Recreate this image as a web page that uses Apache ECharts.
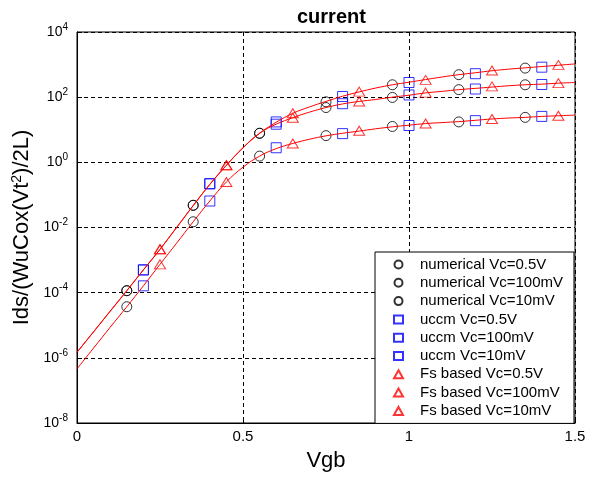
<!DOCTYPE html>
<html>
<head>
<meta charset="utf-8">
<script src="https://cdn.jsdelivr.net/npm/echarts@6/dist/echarts.min.js"></script>
<style>
html, body { margin: 0; padding: 0; background: #fff; }
#main { width: 600px; height: 477px; }
</style>
</head>
<body>
<div id="main"></div>
<script>
// Vgb grid of the continuous curves
var vgb = [0, 0.05, 0.1, 0.15, 0.2, 0.25, 0.3, 0.35, 0.4, 0.45, 0.5, 0.55, 0.6, 0.65, 0.7, 0.75,
    0.8, 0.85, 0.9, 0.95, 1.0, 1.05, 1.1, 1.15, 1.2, 1.25, 1.3, 1.35, 1.4, 1.45, 1.5];
var curve05 = [1.48e-6, 6.3e-6, 2.7e-5, 1.15e-4, 5.0e-4, 2.14e-3, 0.010, 0.047, 0.21, 0.81, 2.8, 7.8,
    17, 32, 50, 74, 107, 145, 191, 240, 288, 347, 417, 490, 562, 646, 724, 794, 871, 955, 1047];
var curve100 = [1.48e-6, 6.3e-6, 2.7e-5, 1.15e-4, 5.0e-4, 2.14e-3, 0.010, 0.047, 0.21, 0.81, 2.8, 7.8,
    14.8, 23.4, 34.7, 48, 62, 74, 85, 100, 115, 135, 151, 170, 186, 204, 224, 240, 251, 269, 282];
var curve10 = [4.6e-7, 2.0e-6, 8.7e-6, 3.7e-5, 1.62e-4, 7.4e-4, 3.3e-3, 0.015, 0.065, 0.25, 0.71, 1.55,
    2.63, 3.8, 5.1, 6.5, 7.8, 9.1, 10.7, 12.3, 13.8, 15.5, 16.6, 17.8, 19.5, 21.4, 22.9, 24, 25.7, 26.9, 28.2];

// marker positions
var vgbNum = [0.15, 0.35, 0.55, 0.75, 0.95, 1.15, 1.35];
var vgbUccm = [0.2, 0.4, 0.6, 0.8, 1.0, 1.2, 1.4];
var vgbFs = [0.25, 0.45, 0.65, 0.85, 1.05, 1.25, 1.45];

var num05 = [1.15e-4, 0.048, 7.8, 72, 240, 490, 780];
var num100 = [1.15e-4, 0.048, 7.8, 48, 98, 170, 240];
var num10 = [3.7e-5, 0.015, 1.55, 6.6, 12.6, 17.4, 24];
var uccm05 = [5.0e-4, 0.22, 17.4, 105, 282, 525, 832];
var uccm100 = [5.0e-4, 0.22, 14.8, 63, 117, 178, 245];
var uccm10 = [1.62e-4, 0.065, 2.8, 7.6, 13.5, 19, 25.7];
var fs05 = [2.14e-3, 0.81, 32, 148, 339, 660, 977];
var fs100 = [2.14e-3, 0.81, 23.4, 74, 138, 214, 269];
var fs10 = [7.4e-4, 0.25, 3.8, 9.3, 15.5, 21.4, 26.9];

var legendNames = [
    'numerical Vc=0.5V', 'numerical Vc=100mV', 'numerical Vc=10mV',
    'uccm Vc=0.5V', 'uccm Vc=100mV', 'uccm Vc=10mV',
    'Fs based Vc=0.5V', 'Fs based Vc=100mV', 'Fs based Vc=10mV'
];

var FONT = 'Liberation Sans, Arial, sans-serif';

function pairs (xs, ys) {
    return xs.map(function (x, i) { return [x, ys[i]]; });
}

function markers (name, xs, ys, symbol, size, color) {
    return {
        name: name,
        type: 'scatter',
        data: pairs(xs, ys),
        symbol: symbol,
        symbolSize: size,
        silent: true,
        itemStyle: { color: 'transparent', borderColor: color, borderWidth: 1 }
    };
}

function curve (xs, ys, color) {
    return {
        type: 'line',
        data: pairs(xs, ys),
        showSymbol: false,
        symbol: 'none',
        smooth: 0.4,
        silent: true,
        lineStyle: { color: color, width: 1 }
    };
}

var series = [
    markers(legendNames[0], vgbNum, num05, 'circle', 10, '#000'),
    markers(legendNames[1], vgbNum, num100, 'circle', 10, '#000'),
    markers(legendNames[2], vgbNum, num10, 'circle', 10, '#000'),
    markers(legendNames[3], vgbUccm, uccm05, 'rect', 10, '#0000ff'),
    markers(legendNames[4], vgbUccm, uccm100, 'rect', 10, '#0000ff'),
    markers(legendNames[5], vgbUccm, uccm10, 'rect', 10, '#0000ff'),
    markers(legendNames[6], vgbFs, fs05, 'triangle', [11, 9], '#ff0000'),
    markers(legendNames[7], vgbFs, fs100, 'triangle', [11, 9], '#ff0000'),
    markers(legendNames[8], vgbFs, fs10, 'triangle', [11, 9], '#ff0000'),
    // continuous Fs based curves on top of the markers
    curve(vgb, curve05, '#ff0000'),
    curve(vgb, curve100, '#ff0000'),
    curve(vgb, curve10, '#ff0000')
];

var myChart = echarts.init(document.getElementById('main'));
myChart.setOption({
    animation: false,
    backgroundColor: '#fff',
    title: {
        text: 'current',
        left: 292,
        top: 2,
        textStyle: { fontFamily: FONT, fontSize: 20, fontWeight: 'bold', color: '#000' }
    },
    grid: {
        left: 77,
        top: 32,
        width: 498,
        height: 392,
        show: true,
        borderColor: '#000',
        borderWidth: 1,
        containLabel: false
    },
    legend: {
        data: legendNames,
        orient: 'vertical',
        left: 375,
        top: 252,
        itemWidth: 9,
        itemHeight: 8,
        itemGap: 3.3,
        padding: [5, 11, 5, 18],
        backgroundColor: '#fff',
        borderColor: '#000',
        borderWidth: 1,
        borderRadius: 0,
        selectedMode: false,
        textStyle: { fontFamily: FONT, fontSize: 15, color: '#000', padding: [0, 0, 0, 12] }
    },
    xAxis: {
        type: 'value',
        min: 0,
        max: 1.5,
        interval: 0.5,
        name: 'Vgb',
        nameLocation: 'middle',
        nameGap: 27,
        nameTextStyle: { fontFamily: FONT, fontSize: 22, color: '#000' },
        axisLine: { lineStyle: { color: '#000', width: 1 } },
        axisTick: { inside: true, length: 5, lineStyle: { color: '#000' } },
        axisLabel: { fontFamily: FONT, fontSize: 15, color: '#000', margin: 6 },
        splitLine: { show: true, lineStyle: { color: '#000', type: [4, 3], width: 1 } }
    },
    yAxis: {
        type: 'log',
        logBase: 10,
        min: 1e-8,
        max: 1e4,
        interval: 2,
        name: 'Ids/(WuCox(Vt{sup|2})/2L)',
        nameLocation: 'middle',
        nameGap: 36,
        nameTextStyle: {
            fontFamily: FONT,
            fontSize: 22,
            color: '#000',
            rich: {
                sup: { fontFamily: FONT, fontSize: 14, color: '#000', verticalAlign: 'top', padding: [0, 0, 8, 0] }
            }
        },
        axisLine: { lineStyle: { color: '#000', width: 1 } },
        axisTick: { inside: true, length: 5, lineStyle: { color: '#000' } },
        minorTick: { show: false },
        axisLabel: {
            margin: 9,
            formatter: function (v) {
                return '{base|10}{sup|' + Math.round(Math.log10(v)) + '}';
            },
            rich: {
                base: { fontFamily: FONT, fontSize: 14, color: '#000', verticalAlign: 'middle' },
                sup: { fontFamily: FONT, fontSize: 10, color: '#000', verticalAlign: 'top', padding: [0, 0, 10, 0] }
            }
        },
        splitLine: { show: true, lineStyle: { color: '#000', type: [4, 3], width: 1 } }
    },
    series: series
});
</script>
</body>
</html>
